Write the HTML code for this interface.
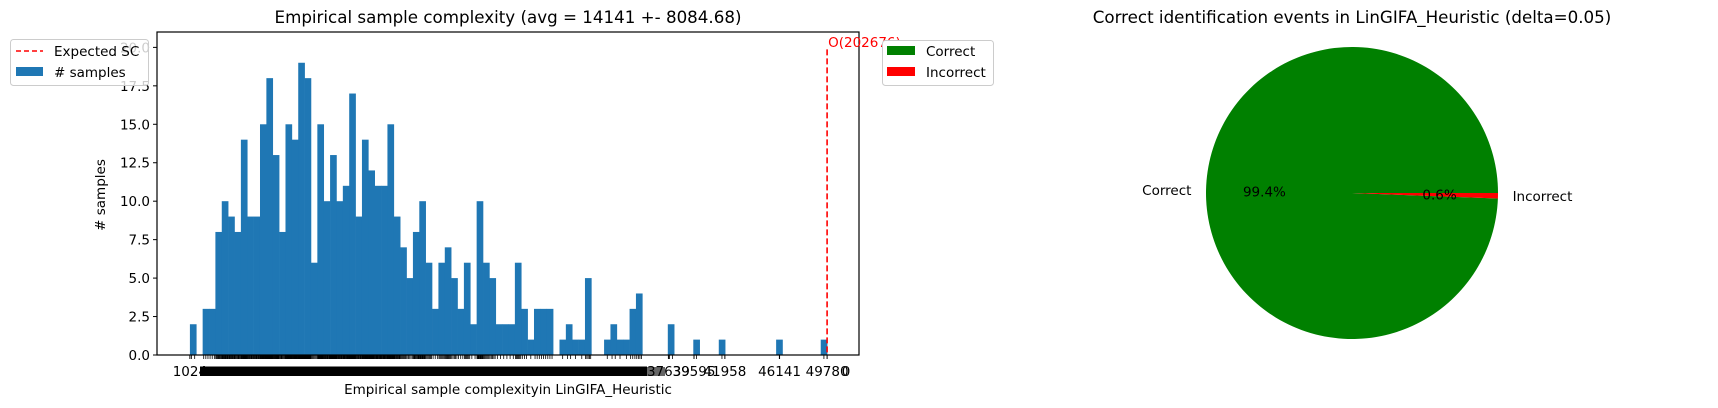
<!DOCTYPE html>
<html><head><meta charset="utf-8"><style>
html,body{margin:0;padding:0;background:#fff;}
svg{display:block;font-family:"DejaVu Sans","Liberation Sans",sans-serif;}
</style></head><body>
<svg id="chart" width="1718" height="408" viewBox="0 0 1718 408">
  <text x="508" y="23" text-anchor="middle" font-size="16.7" fill="#000">Empirical sample complexity (avg = 14141 +- 8084.68)</text>
  <g id="hist"></g>
  <text x="508" y="394" text-anchor="middle" font-size="13.5" fill="#000">Empirical sample complexityin LinGIFA_Heuristic</text>
  <text x="0" y="0" transform="translate(105,195) rotate(-90)" text-anchor="middle" font-size="13.5" fill="#000"># samples</text>
  <g>
    <rect x="10.5" y="39.5" width="138" height="46" rx="3" fill="#fff" fill-opacity="0.8" stroke="#ccc"/>
    <line x1="16" y1="51" x2="43" y2="51" stroke="red" stroke-width="1.6" stroke-dasharray="5,3"/>
    <text x="54" y="56" font-size="13.5">Expected SC</text>
    <rect x="16" y="67" width="27" height="9" fill="#1f77b4"/>
    <text x="54" y="77" font-size="13.5"># samples</text>
  </g>
  <g>
    <rect x="882.5" y="40.5" width="111" height="45" rx="3" fill="#fff" stroke="#ccc"/>
    <rect x="887" y="46" width="28" height="9" fill="green"/>
    <text x="926" y="56" font-size="13.5">Correct</text>
    <rect x="887" y="67" width="28" height="9" fill="red"/>
    <text x="926" y="77" font-size="13.5">Incorrect</text>
  </g>
  <text x="1352" y="23" text-anchor="middle" font-size="16.7">Correct identification events in LinGIFA_Heuristic (delta=0.05)</text>
  <g id="pie"></g>
</svg>
<script>
const binCounts = [2,0,3,3,8,10,9,8,14,9,9,15,18,13,8,15,14,19,18,6,15,10,13,10,11,17,9,14,12,11,11,15,9,7,5,8,10,6,3,6,7,5,3,6,2,10,6,5,2,2,2,6,3,1,3,3,3,0,1,2,1,1,5,0,0,1,2,1,1,3,4,0,0,0,0,2,0,0,0,1,0,0,0,1,0,0,0,0,0,0,0,0,1,0,0,0,0,0,0,1];
const binStart = 1024;
const binEnd = 49780;
const yTicks = [0,2.5,5,7.5,10,12.5,15,17.5,20];
const yTickLabels = ["0.0","2.5","5.0","7.5","10.0","12.5","15.0","17.5","20.0"];
const xTickValues = [1024,37639,39595,41958,46141,49780];
const xTickLabels = ["1024","37639","39595","41958","46141","49780"];
const expectedSC = 49780;
const expectedLabel = "O(202676)";
const pieLabels = ["Correct","Incorrect"];
const pieValues = [99.4,0.6];
const pieColors = ["green","red"];

const NS="http://www.w3.org/2000/svg";
function mk(tag,attrs,parent){const e=document.createElementNS(NS,tag);for(const k in attrs)e.setAttribute(k,attrs[k]);parent.appendChild(e);return e;}
const L=157,R=859,T=32,B=355;
const xMin=-1494,xMax=52221,yMin=0,yMax=21;
const xs=v=>L+(v-xMin)/(xMax-xMin)*(R-L);
const ys=v=>B-(v-yMin)/(yMax-yMin)*(B-T);
const hist=document.getElementById('hist');
const bw=(binEnd-binStart)/binCounts.length;
binCounts.forEach((c,i)=>{
  if(c<=0)return;
  const x0=xs(binStart+i*bw),x1=xs(binStart+(i+1)*bw);
  const r=mk('rect',{x:x0,y:ys(c),width:x1-x0+0.3,height:ys(0)-ys(c),fill:'#1f77b4'},hist);
  
  
});
const fr=mk('rect',{x:L,y:T,width:R-L,height:B-T,fill:'none',stroke:'#000','stroke-width':1.2},hist);


yTicks.forEach((v,i)=>{
  mk('line',{x1:L-4,y1:ys(v),x2:L,y2:ys(v),stroke:'#000'},hist);
  const t=mk('text',{x:L-7,y:ys(v)+5,'text-anchor':'end','font-size':13.5},hist);
  t.textContent=yTickLabels[i];
  
  
});
binCounts.forEach((c,i)=>{
  for(let k=0;k<c;k++){
    const v=binStart+i*bw+(k+0.5)*bw/c;
    mk('line',{x1:xs(v),y1:B,x2:xs(v),y2:B+4,stroke:'#000','stroke-width':0.8},hist);
  }
});
const band=mk('rect',{x:200,y:366.5,width:447,height:9.5,fill:'#000'},hist);


const band2=mk('rect',{x:647,y:367,width:18,height:9,fill:'#000','fill-opacity':0.6},hist);


xTickValues.forEach((v,i)=>{
  mk('line',{x1:xs(v),y1:B,x2:xs(v),y2:B+4,stroke:'#000'},hist);
  const t=mk('text',{x:xs(v),y:376,'text-anchor':'middle','font-size':13.5},hist);
  t.textContent=xTickLabels[i];
  
  
});
const z=mk('text',{x:846,y:376,'text-anchor':'middle','font-size':13.5},hist);
z.textContent='0';


const el=mk('line',{x1:xs(expectedSC),y1:ys(20)+2,x2:xs(expectedSC),y2:B,stroke:'red','stroke-width':1.6,'stroke-dasharray':'6,3'},hist);


const et=mk('text',{x:xs(expectedSC)+1,y:47,fill:'red','font-size':13.5},hist);
et.textContent=expectedLabel;


const pie=document.getElementById('pie');
const cx=1352,cy=193,rad=146;
const total=pieValues.reduce((a,b)=>a+b,0);
let ang=0;
pieValues.forEach((v,i)=>{
  const a0=ang,a1=ang+v/total*2*Math.PI;ang=a1;
  const p0=[cx+rad*Math.cos(a0),cy-rad*Math.sin(a0)],p1=[cx+rad*Math.cos(a1),cy-rad*Math.sin(a1)];
  const large=(a1-a0)>Math.PI?1:0;
  const p=mk('path',{d:`M${cx},${cy} L${p0[0]},${p0[1]} A${rad},${rad} 0 ${large} 0 ${p1[0]},${p1[1]} Z`,fill:pieColors[i]},pie);
  
  
  const mid=(a0+a1)/2;
  const lt=mk('text',{x:cx+rad*1.1*Math.cos(mid),y:cy-rad*1.1*Math.sin(mid)+5,'text-anchor':Math.cos(mid)<0?'end':'start','font-size':13.5},pie);
  lt.textContent=pieLabels[i];
  
  
  const pt=mk('text',{x:cx+rad*0.6*Math.cos(mid),y:cy-rad*0.6*Math.sin(mid)+5,'text-anchor':'middle','font-size':13.5},pie);
  pt.textContent=v.toFixed(1)+'%';
  
  
});
</script>
</body></html>
